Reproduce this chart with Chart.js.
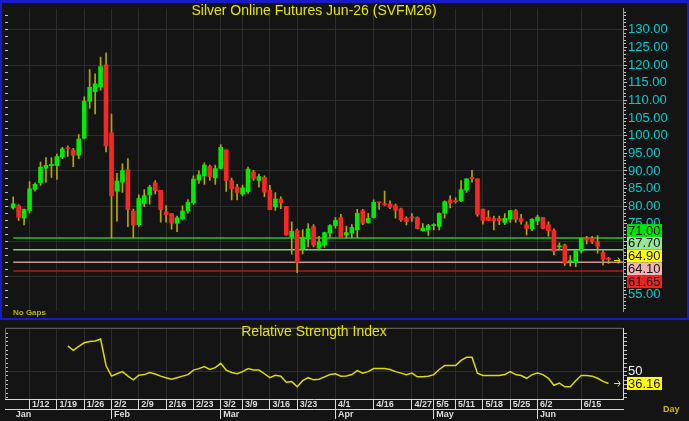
<!DOCTYPE html>
<html>
<head>
<meta charset="utf-8">
<script src="https://cdn.jsdelivr.net/npm/chart.js@4.4.1/dist/chart.umd.min.js"></script>
<style>
html, body { margin: 0; padding: 0; background: #141414; }
#wrap { position: relative; width: 689px; height: 421px; overflow: hidden; background: #141414; }
#main { position: absolute; left: 0; top: 0; }
#rsi { position: absolute; left: 0; top: 320px; }
#frame { position: absolute; left: 0; top: 0; width: 689px; height: 320px; box-sizing: border-box;
  border: 2px solid #1a1ac8; border-top-width: 3px; pointer-events: none; }
</style>
</head>
<body>
<div id="wrap">
  <canvas id="main" width="689" height="320"></canvas>
  <canvas id="rsi" width="689" height="101"></canvas>
  <div id="frame"></div>
</div>
<script>
// daily OHLC
const opens  = [79.5,80.2,76.6,78.8,84.8,86.6,90.8,91.5,91.5,93.9, 96.5,96.0,94.5,99.3,109.7,112.5,113.8,120.1,100.8,84.3,
                86.8,90.4,78.6,74.8,80.8,83.2,86.6,84.5,78.4,77.9, 75.2,76.5,78.7,81.0,87.4,88.6,91.3,88.0,90.7,96.0,
                87.3,85.4,83.4,84.1,89.7,87.3,88.2,84.5,79.9,82.0, 79.9,71.2,73.1,67.8,70.8,74.2,68.1,69.0,72.4,74.5,
                76.8,71.9,72.4,73.3,78.8,75.4,76.8,81.1,80.7,80.7, 80.2,79.3,76.6,76.9,76.8,73.1,73.3,74.5,74.3,78.0,
                81.8,81.4,81.5,84.55,88.2,87.8,79.2,76.95,76.5,76.5, 75.4,76.3,78.8,76.5,74.75,73.6,75.85,76.8,74.75,73.1,
                68.5,69.0,64.2,64.0,67.4,70.8,70.8,69.9,66.9,65.2];
const highs  = [82.7,80.4,79.2,87.0,86.6,92.5,93.8,93.8,94.8,96.7, 97.1,96.4,100.3,111.0,118.7,117.5,122.3,123.5,106.1,89.3,
                92.0,93.5,79.2,83.2,84.7,85.9,87.3,84.5,80.2,77.9, 77.2,80.1,81.9,88.6,90.0,92.3,91.7,91.7,97.5,96.0,
                88.0,86.2,86.0,91.1,90.2,89.1,88.6,85.9,83.9,82.7, 79.9,75.6,73.5,73.4,75.1,74.8,71.5,72.7,74.8,76.8,
                77.7,74.4,74.8,79.1,79.1,78.0,81.8,81.2,84.3,81.5, 80.6,79.5,77.0,77.9,77.0,75.1,74.9,75.1,78.1,81.5,
                83.0,82.4,87.3,87.8,90.2,87.8,79.2,78.8,77.2,77.2, 77.9,78.8,79.05,77.7,75.6,76.5,77.5,76.8,75.6,73.6,
                69.6,69.3,66.0,67.4,71.0,71.5,71.5,71.7,67.4,65.5];
const lows   = [79.2,76.0,74.7,78.0,84.3,85.9,86.8,88.2,87.6,93.5, 94.1,91.2,93.5,99.1,107.7,106.2,112.9,95.4,71.0,75.8,
                83.9,74.2,71.0,74.3,79.9,80.6,83.5,75.5,75.5,73.5, 72.8,76.1,78.0,80.5,86.5,86.2,87.3,86.2,90.5,84.2,
                81.8,81.8,82.9,83.6,87.3,85.4,82.7,79.0,78.8,79.3, 71.7,66.4,61.2,66.5,68.5,68.5,67.6,68.3,71.1,73.8,
                71.1,71.0,71.1,71.1,74.8,75.2,76.6,79.1,80.2,79.3, 76.6,75.7,74.7,75.7,73.6,72.9,71.7,73.3,73.3,76.6,
                79.5,80.9,81.3,83.9,86.8,77.2,74.9,76.0,73.3,74.75, 74.75,75.4,75.4,74.9,71.9,73.1,74.75,73.6,71.5,66.2,
                67.6,63.2,63.0,62.85,66.7,69.3,69.4,66.7,63.3,63.8];
const closes = [80.7,76.9,79.1,84.9,86.2,91.1,91.6,91.9,94.1,96.3, 96.3,94.5,99.0,109.7,113.7,114.7,119.6,97.1,82.9,87.1,
                90.1,79.0,74.6,82.2,83.0,85.4,84.4,79.0,77.6,75.2, 76.7,78.6,81.1,87.7,88.9,91.7,88.4,90.7,96.7,87.3,
                85.0,83.9,85.2,90.5,87.9,88.4,84.0,79.0,82.0,80.9, 71.9,72.9,64.1,71.2,73.6,69.0,69.9,72.5,74.5,76.0,
                71.1,72.5,74.0,78.0,75.2,76.6,81.1,81.0,80.4,79.7, 78.8,76.1,75.7,76.7,73.7,73.8,74.5,74.8,78.0,81.3,
                80.9,81.3,84.7,87.8,87.8,77.7,76.0,76.0,75.85,75.85, 76.6,78.8,76.3,75.7,73.7,76.3,76.95,73.7,73.1,67.2,
                68.8,63.8,64.6,67.4,70.8,70.4,69.9,68.7,65.0,64.9];

// RSI (starts on the 11th bar)
const rsiValues = [null,null,null,null,null,null,null,null,null,null,
                80.1,74.8,79.5,83.7,85.1,85.8,88.0,57.1,44.7,47.5, 50.0,44.7,40.4,45.7,46.5,48.9,47.2,44.7,42.9,41.1,
                42.9,44.7,46.5,51.8,53.5,56.0,52.5,54.6,59.6,51.8, 48.9,47.5,50.0,53.5,51.8,51.8,47.5,42.9,45.7,44.7,
                37.6,38.3,32.3,39.4,42.9,40.4,41.1,43.9,46.5,47.5, 44.7,45.0,46.5,51.1,48.2,50.0,53.5,53.5,53.5,52.5,
                50.0,48.2,46.5,48.2,43.9,43.9,44.7,46.5,52.5,57.1, 57.1,57.1,63.1,66.7,66.7,48.2,45.4,45.4,45.4,45.4,
                46.5,50.0,46.5,45.4,42.2,46.5,48.2,46.5,42.2,34.0, 36.5,32.3,32.3,39.4,45.4,45.4,44.7,42.2,38.6,36.16];

// date axis: bar index of each labelled week / month start
const weekLabels = ['1/12','1/19','1/26','2/2','2/9','2/16','2/23','3/2','3/9','3/16','3/23',
                    '4/1','4/16','4/27','5/5','5/11','5/18','5/25','6/2','6/15'];
const weekIdx    = [3,8,13,18,23,28,33,38,42,47,52,59,66,73,77,81,86,91,96,104];
const monthLabels = ['Jan','Feb','Mar','Apr','May','Jun'];
const monthIdx    = [0,18,38,59,77,96];

const priceTicks = [55,60,65,70,75,80,85,90,95,100,105,110,115,120,125,130];
const levelValues = [71.00, 67.70, 64.10, 61.65];
const rsiTicks = [50];

// styling / layout
const X_MIN = -1.5, X_MAX = 111.65;
const Y_MIN = 50.25, Y_MAX = 135.96;
const levelLineColors = ['#24c424', '#84cc84', '#cc9494', '#a81c1c'];
const levelBoxColors = { 71: '#00e400', 67.7: '#94e894', 64.1: '#f4b4b4', 61.65: '#e82424' };
const FONT = '"Liberation Sans", Arial, sans-serif';
const SMALL = '"Liberation Sans Narrow", "Liberation Sans", Arial, sans-serif';

Chart.defaults.font.family = FONT;
Chart.defaults.animation = false;

const idx = closes.map((_, i) => i);
const lastPrice = closes[closes.length - 1];
const lastRsi = rsiValues[rsiValues.length - 1];

function stackBoxes(centers, h) {
  let groups = centers.map(c => ({ n: 1, sum: c, top: c - h / 2 }));
  let merged = true;
  while (merged) {
    merged = false;
    for (let i = 0; i < groups.length - 1; i++) {
      const a = groups[i], b = groups[i + 1];
      if (a.top + a.n * h > b.top) {
        const n = a.n + b.n, sum = a.sum + b.sum;
        groups.splice(i, 2, { n, sum, top: sum / n - n * h / 2 });
        merged = true;
        break;
      }
    }
  }
  const tops = [];
  groups.forEach(g => { for (let k = 0; k < g.n; k++) tops.push(g.top + k * h); });
  return tops;
}

function drawArrow(ctx, x, y) {
  ctx.strokeStyle = '#e8e800';
  ctx.lineWidth = 1;
  ctx.beginPath();
  ctx.moveTo(x - 6, y + 0.5); ctx.lineTo(x, y + 0.5);
  ctx.moveTo(x - 2, y - 2.5); ctx.lineTo(x, y + 0.5); ctx.lineTo(x - 2, y + 3.5);
  ctx.stroke();
}

const mainOverlay = {
  id: 'mainOverlay',
  afterDraw(chart) {
    const { ctx, chartArea: a } = chart;
    const y = chart.scales.y;
    ctx.save();
    ctx.fillStyle = '#e4e400';
    ctx.font = '14px ' + FONT;
    ctx.textAlign = 'center';
    ctx.textBaseline = 'middle';
    ctx.fillText('Silver Online Futures Jun-26 (SVFM26)', (a.left + a.right) / 2, 11);

    ctx.font = 'bold 8px ' + SMALL;
    ctx.fillStyle = '#b4b400';
    ctx.textAlign = 'left';
    ctx.fillText('No Gaps', 13, 313);

    const items = [
      { v: 71, bg: levelBoxColors[71] },
      { v: 67.7, bg: levelBoxColors[67.7] },
      { v: lastPrice, bg: '#ffff00' },
      { v: 64.1, bg: levelBoxColors[64.1] },
      { v: 61.65, bg: levelBoxColors[61.65] }
    ].sort((p, q) => q.v - p.v);
    const h = 12.8;
    const tops = stackBoxes(items.map(it => y.getPixelForValue(it.v)), h);
    ctx.font = '13px ' + FONT;
    items.forEach((it, i) => {
      ctx.fillStyle = it.bg;
      ctx.fillRect(a.right + 4, tops[i], 35, h);
      ctx.fillStyle = '#141414';
      ctx.fillText(it.v.toFixed(2), a.right + 5, tops[i] + h / 2 + 0.5);
    });
    drawArrow(ctx, a.right - 3, Math.round(y.getPixelForValue(lastPrice)));
    ctx.restore();
  }
};

const levelSets = levelValues.map((v, i) => ({
  type: 'line',
  data: [{ x: 0, y: v }, { x: X_MAX, y: v }],
  borderColor: levelLineColors[i],
  borderWidth: 1.5,
  pointRadius: 0,
  order: 3
}));

new Chart(document.getElementById('main'), {
  type: 'bar',
  data: {
    datasets: [
      {
        data: idx.map(i => ({ x: i, y: [opens[i], closes[i]] })),
        backgroundColor: idx.map(i => closes[i] >= opens[i] ? '#00ec00' : '#fa2626'),
        barThickness: 4, minBarLength: 1, grouped: false, order: 1
      },
      {
        data: idx.map(i => ({ x: i, y: [lows[i], highs[i]] })),
        backgroundColor: '#b8a600',
        barThickness: 1, grouped: false, order: 2
      },
      ...levelSets
    ]
  },
  options: {
    responsive: false,
    devicePixelRatio: 1,
    layout: { padding: { left: 5, right: 0, top: 5, bottom: 3 } },
    plugins: { legend: { display: false }, tooltip: { enabled: false } },
    scales: {
      x: {
        type: 'linear', min: X_MIN, max: X_MAX, offset: false,
        afterBuildTicks: s => { s.ticks = weekIdx.map(v => ({ value: v })); },
        ticks: { display: false, autoSkip: false },
        grid: { offset: false, color: '#2e2e2e', drawTicks: false },
        border: { display: false },
        afterFit: s => { s.height = 0; }
      },
      yr: {
        position: 'right', weight: -1, min: Y_MIN, max: Y_MAX,
        afterBuildTicks: s => { const t = []; for (let v = 51; v <= 135; v++) t.push({ value: v }); s.ticks = t; },
        ticks: { display: false, autoSkip: false },
        grid: { drawOnChartArea: false, tickColor: '#c4c4c4', tickLength: 3 },
        border: { display: false },
        afterFit: s => { s.width = 0; }
      },
      y: {
        position: 'right', min: Y_MIN, max: Y_MAX,
        afterBuildTicks: s => { s.ticks = priceTicks.map(v => ({ value: v })); },
        ticks: { autoSkip: false, color: '#00cccc', font: { size: 13 }, padding: 1, callback: v => v.toFixed(2) },
        grid: { color: c => (c.tick && c.tick.value % 10 === 0) ? '#2e2e2e' : 'rgba(0,0,0,0)',
                tickColor: '#c4c4c4', tickLength: 4 },
        border: { display: true, color: '#9a9a9a' },
        afterFit: s => { s.width = 66; }
      },
      yl: {
        position: 'left', min: Y_MIN, max: Y_MAX,
        afterBuildTicks: s => { const t = []; for (let v = 52; v <= 134; v += 2) t.push({ value: v }); s.ticks = t; },
        ticks: { display: false, autoSkip: false },
        grid: { drawOnChartArea: false, tickColor: '#c4c4c4', tickLength: -3 },
        border: { display: false },
        afterFit: s => { s.width = 0; }
      }
    }
  },
  plugins: [mainOverlay]
});

const rsiOverlay = {
  id: 'rsiOverlay',
  beforeDatasetsDraw(chart) {
    const { ctx, chartArea: a } = chart;
    ctx.save();
    ctx.strokeStyle = '#6a6a6a';
    ctx.lineWidth = 1;
    ctx.beginPath();
    ctx.moveTo(a.left + 0.5, a.bottom); ctx.lineTo(a.left + 0.5, a.top - 0.5); ctx.lineTo(a.right, a.top - 0.5);
    ctx.stroke();
    ctx.restore();
  },
  afterDraw(chart) {
    const { ctx, chartArea: a } = chart;
    const y = chart.scales.y;
    ctx.save();
    ctx.fillStyle = '#e4e400';
    ctx.font = '14px ' + FONT;
    ctx.textAlign = 'center';
    ctx.textBaseline = 'middle';
    ctx.fillText('Relative Strength Index', (a.left + a.right) / 2, 12);

    const py = y.getPixelForValue(lastRsi);
    ctx.fillStyle = '#ffff00';
    ctx.fillRect(a.right + 4, py - 6.5, 35, 13);
    ctx.fillStyle = '#141414';
    ctx.font = '13px ' + FONT;
    ctx.textAlign = 'left';
    ctx.fillText(lastRsi.toFixed(2), a.right + 5, py + 0.5);
    drawArrow(ctx, a.right - 3, Math.round(py));

    ctx.fillStyle = '#d4b400';
    ctx.font = 'bold 9px ' + SMALL;
    ctx.fillText('Day', 663, 90);
    ctx.restore();
  }
};

new Chart(document.getElementById('rsi'), {
  type: 'line',
  data: {
    datasets: [{
      data: idx.filter(i => rsiValues[i] !== null).map(i => ({ x: i, y: rsiValues[i] })),
      borderColor: '#dcdc00',
      borderWidth: 1.5,
      pointRadius: 0,
      tension: 0
    }]
  },
  options: {
    responsive: false,
    devicePixelRatio: 1,
    layout: { padding: { left: 5, right: 0, top: 4, bottom: 2 } },
    plugins: { legend: { display: false }, tooltip: { enabled: false } },
    scales: {
      x: {
        type: 'linear', position: 'bottom', weight: 0, min: X_MIN, max: X_MAX, offset: false,
        afterBuildTicks: s => { s.ticks = weekIdx.map(v => ({ value: v })); },
        ticks: { autoSkip: false, maxRotation: 0, align: 'start', padding: -10, color: '#dcdcdc',
                 font: { family: SMALL, size: 9, weight: 'bold' },
                 callback: (v, i) => ' ' + weekLabels[i] },
        grid: { offset: false, color: '#2e2e2e', tickColor: '#d8d8d8', tickLength: 10 },
        border: { display: true, color: '#d8d8d8' },
        afterFit: s => { s.height = 10; }
      },
      xm: {
        type: 'linear', position: 'bottom', weight: 1, min: X_MIN, max: X_MAX, offset: false,
        afterBuildTicks: s => { s.ticks = monthIdx.map(v => ({ value: v })); },
        ticks: { autoSkip: false, maxRotation: 0, align: 'start', padding: -10, color: '#dcdcdc',
                 font: { family: SMALL, size: 9, weight: 'bold' },
                 callback: (v, i) => ' ' + monthLabels[i] },
        grid: { offset: false, drawOnChartArea: false,
                tickColor: c => c.index === 0 ? 'rgba(0,0,0,0)' : '#d8d8d8', tickLength: 10 },
        border: { display: true, color: '#d8d8d8' },
        afterFit: s => { s.height = 10; }
      },
      y: {
        position: 'right', min: 18, max: 100,
        afterBuildTicks: s => { const t = []; for (let v = 20; v <= 95; v += 5) t.push({ value: v }); s.ticks = t; },
        ticks: { autoSkip: false, color: '#f0f0f0', font: { size: 13 }, padding: 1,
                 callback: v => rsiTicks.includes(v) ? String(v) : '' },
        grid: { color: c => (c.tick && rsiTicks.includes(c.tick.value)) ? '#2e2e2e' : 'rgba(0,0,0,0)',
                tickColor: '#c4c4c4', tickLength: 4 },
        border: { display: true, color: '#d8d8d8' },
        afterFit: s => { s.width = 66; }
      },
      yl: {
        position: 'left', min: 18, max: 100,
        afterBuildTicks: s => { const t = []; for (let v = 20; v <= 95; v += 5) t.push({ value: v }); s.ticks = t; },
        ticks: { display: false, autoSkip: false },
        grid: { drawOnChartArea: false, tickColor: '#c4c4c4', tickLength: -3 },
        border: { display: false },
        afterFit: s => { s.width = 0; }
      }
    }
  },
  plugins: [rsiOverlay]
});
</script>
</body>
</html>
